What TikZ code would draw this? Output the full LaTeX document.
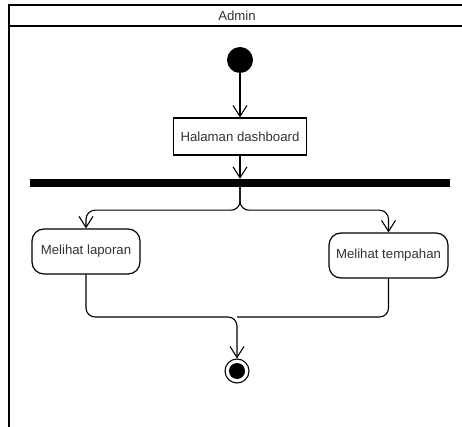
\documentclass[tikz,border=0pt]{standalone}
\usepackage{fontspec}
\setmainfont{Liberation Sans}
\usetikzlibrary{arrows.meta}
\begin{document}
\begin{tikzpicture}[x=1pt,y=-1pt,
    every node/.style={font=\fontsize{13.2}{16}\selectfont, text=black!80},
    act/.style={draw=black, line width=1.2pt, rounded corners=12pt, minimum height=45pt, fill=white},
    flow/.style={line width=1.1pt, rounded corners=9pt, -{Straight Barb[length=11pt,width=14pt]}},
    link/.style={line width=1.1pt, rounded corners=9pt}]
    \useasboundingbox (0,0) rectangle (462,427);

    % swimlane
    \draw[line width=1.6pt] (9,440) -- (9,5) -- (475,5);
    \draw[line width=1.6pt] (9,26) -- (475,26);
    \node (lane) at (237,15.5) {Admin};

    \node[circle,fill=black,minimum size=26pt,inner sep=0pt] (start) at (240,60) {};
    \node[draw=black,line width=1.1pt,minimum width=133pt,minimum height=37pt] (dash) at (240,136.5) {Halaman dashboard};
    \node[fill=black,minimum width=420pt,minimum height=8pt,inner sep=0pt] (fork) at (240,183) {};
    \node[act,minimum width=108pt] (lap) at (86,251.5) {Melihat laporan};
    \node[act,minimum width=119pt] (temp) at (388.5,255.5) {Melihat tempahan};
    \node[circle,draw=black,line width=1.1pt,minimum size=24pt,inner sep=0pt] (stop) at (237,371) {};
    \node[circle,fill=black,minimum size=16pt,inner sep=0pt] (stopin) at (stop) {};
    \coordinate (merge) at (237,317);

    \draw[flow] (start) -- (dash);
    \draw[flow] (dash) -- (fork);
    \draw[flow] (fork.south) -- ++(0,23) -| (lap.north);
    \draw[flow] (fork.south) -- ++(0,23) -| (temp.north);
    \draw[flow] (lap.south) |- (merge) -- (stop.north);
    \draw[link] (temp.south) |- (merge);
\end{tikzpicture}
\end{document}
